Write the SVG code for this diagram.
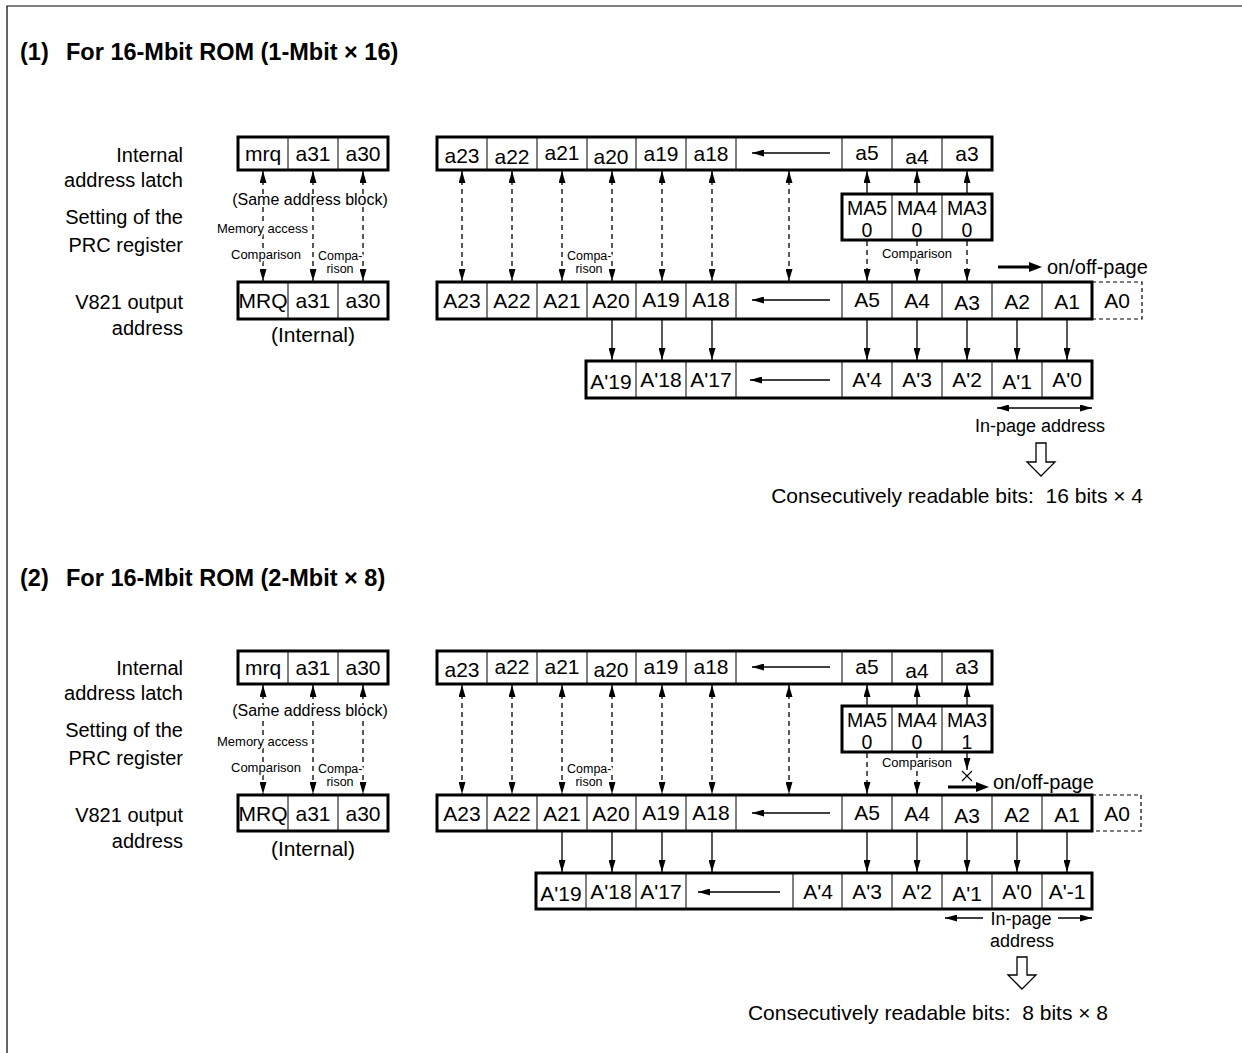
<svg xmlns="http://www.w3.org/2000/svg" width="1242" height="1053" viewBox="0 0 1242 1053">
<style>
text{font-family:"Liberation Sans",Arial,Helvetica,sans-serif;fill:#000}
.t{font-size:21px;text-anchor:middle}
.ma{font-size:19.5px;text-anchor:middle}
.lbl{font-size:20px;text-anchor:end}
.ttl{font-size:23.5px;font-weight:bold}
.sm{font-size:13px}
.xs{font-size:12.5px}
.mid{font-size:16px}
.pre{white-space:pre}
.halo{paint-order:stroke;stroke:#fff;stroke-width:4px;stroke-linejoin:round}
.box{fill:#fff;stroke:#000;stroke-width:3}
.div{stroke:#000;stroke-width:1;fill:none}
.dash{stroke:#000;stroke-width:1.3;stroke-dasharray:5,4;fill:none}
.sol{stroke:#000;stroke-width:1.3;fill:none}
.frame{stroke:#000;stroke-width:1.2;fill:none}
</style>
<defs>
<marker id="ah" viewBox="0 0 12 7" refX="12" refY="3.5" markerWidth="12" markerHeight="7" orient="auto-start-reverse" markerUnits="userSpaceOnUse"><path d="M0,0 L12,3.5 L0,7 Z" fill="#000"/></marker>
</defs>
<path class="frame" d="M7,1053 V6 H1242"/>

<!-- Section 1 -->
<g id="title1"><text class="ttl" x="20" y="60">(1)</text><text class="ttl" x="66" y="60">For 16-Mbit ROM (1-Mbit × 16)</text></g>
<g id="labels1">
<text class="lbl" x="183" y="162">Internal</text>
<text class="lbl" x="183" y="187">address latch</text>
<text class="lbl" x="183" y="224">Setting of the</text>
<text class="lbl" x="183" y="252">PRC register</text>
<text class="lbl" x="183" y="309">V821 output</text>
<text class="lbl" x="183" y="335">address</text>
</g>
<g id="connectors1">
<line class="dash" x1="263" y1="171" x2="263" y2="281" marker-start="url(#ah)" marker-end="url(#ah)"/>
<line class="dash" x1="313" y1="171" x2="313" y2="281" marker-start="url(#ah)" marker-end="url(#ah)"/>
<line class="dash" x1="363" y1="171" x2="363" y2="281" marker-start="url(#ah)" marker-end="url(#ah)"/>
<line class="dash" x1="462" y1="171" x2="462" y2="281" marker-start="url(#ah)" marker-end="url(#ah)"/>
<line class="dash" x1="512" y1="171" x2="512" y2="281" marker-start="url(#ah)" marker-end="url(#ah)"/>
<line class="dash" x1="562" y1="171" x2="562" y2="281" marker-start="url(#ah)" marker-end="url(#ah)"/>
<line class="dash" x1="612" y1="171" x2="612" y2="281" marker-start="url(#ah)" marker-end="url(#ah)"/>
<line class="dash" x1="662" y1="171" x2="662" y2="281" marker-start="url(#ah)" marker-end="url(#ah)"/>
<line class="dash" x1="712" y1="171" x2="712" y2="281" marker-start="url(#ah)" marker-end="url(#ah)"/>
<line class="dash" x1="789" y1="171" x2="789" y2="281" marker-start="url(#ah)" marker-end="url(#ah)"/>
<line class="sol" x1="867" y1="194" x2="867" y2="171" marker-end="url(#ah)"/>
<line class="sol" x1="917" y1="194" x2="917" y2="171" marker-end="url(#ah)"/>
<line class="sol" x1="967" y1="194" x2="967" y2="171" marker-end="url(#ah)"/>
<line class="dash" x1="867" y1="241" x2="867" y2="281" marker-end="url(#ah)"/>
<line class="dash" x1="917" y1="241" x2="917" y2="281" marker-end="url(#ah)"/>
<line class="dash" x1="967" y1="241" x2="967" y2="281" marker-end="url(#ah)"/>
<line class="sol" x1="612" y1="320" x2="612" y2="360" marker-end="url(#ah)"/>
<line class="sol" x1="662" y1="320" x2="662" y2="360" marker-end="url(#ah)"/>
<line class="sol" x1="712" y1="320" x2="712" y2="360" marker-end="url(#ah)"/>
<line class="sol" x1="867" y1="320" x2="867" y2="360" marker-end="url(#ah)"/>
<line class="sol" x1="917" y1="320" x2="917" y2="360" marker-end="url(#ah)"/>
<line class="sol" x1="967" y1="320" x2="967" y2="360" marker-end="url(#ah)"/>
<line class="sol" x1="1017" y1="320" x2="1017" y2="360" marker-end="url(#ah)"/>
<line class="sol" x1="1067" y1="320" x2="1067" y2="360" marker-end="url(#ah)"/>
<path d="M998,265.5 H1029 V262 L1042,267 L1029,272 V268.5 H998 Z" fill="#000"/>
<line class="sol" x1="997" y1="408" x2="1092" y2="408" marker-start="url(#ah)" marker-end="url(#ah)"/>
<path d="M1036,443 H1046 V462 H1055 L1041,476 L1027,462 H1036 Z" fill="#fff" stroke="#000" stroke-width="1.3"/>
</g>
<g id="notes1">
<text class="mid halo" x="310" y="205" text-anchor="middle">(Same address block)</text>
<text class="sm halo" x="217" y="233">Memory access</text>
<text class="sm halo" x="231" y="259">Comparison</text>
<text class="xs halo" x="318" y="260">Compa-</text>
<text class="xs halo" x="340" y="273" text-anchor="middle">rison</text>
<text class="xs halo" x="567" y="260">Compa-</text>
<text class="xs halo" x="589" y="273" text-anchor="middle">rison</text>
<text class="sm halo" x="917" y="258" text-anchor="middle">Comparison</text>
<text x="1047" y="274" font-size="20">on/off-page</text>
<text x="1040" y="432" font-size="18" text-anchor="middle">In-page address</text>
<text class="pre" xml:space="preserve" x="1143" y="503" font-size="21" text-anchor="end">Consecutively readable bits:  16 bits × 4</text>
<text x="313" y="342" class="t" font-size="20">(Internal)</text>
</g>
<g id="latch-ctrl1">
<rect class="box" x="238" y="137" width="150" height="33"/>
<path class="div" d="M288,137V170M338,137V170"/>
<text class="t" x="263" y="161">mrq</text><text class="t" x="313" y="161">a31</text><text class="t" x="363" y="161">a30</text>
</g>
<g id="latch-addr1">
<rect class="box" x="437" y="137" width="555" height="33"/>
<path class="div" d="M487,137V170M537,137V170M587,137V170M636,137V170M686,137V170M736,137V170M842,137V170M892,137V170M942,137V170"/>
<text class="t" x="462" y="163">a23</text><text class="t" x="512" y="164">a22</text><text class="t" x="562" y="160">a21</text><text class="t" x="611" y="164">a20</text><text class="t" x="661" y="161">a19</text><text class="t" x="711" y="161">a18</text>
<line class="sol" x1="830" y1="153" x2="752" y2="153" marker-end="url(#ah)"/>
<text class="t" x="867" y="160">a5</text><text class="t" x="917" y="164">a4</text><text class="t" x="967" y="161">a3</text>
</g>
<g id="prc1">
<rect class="box" x="842" y="194" width="150" height="46"/>
<path class="div" d="M892,194V240M942,194V240"/>
<text class="ma" x="867" y="215">MA5</text><text class="ma" x="917" y="215">MA4</text><text class="ma" x="967" y="215">MA3</text>
<text class="ma" x="867" y="237">0</text><text class="ma" x="917" y="237">0</text><text class="ma" x="967" y="237">0</text>
</g>
<g id="out-ctrl1">
<rect class="box" x="238" y="282" width="150" height="37"/>
<path class="div" d="M288,282V319M338,282V319"/>
<text class="t" x="263" y="308">MRQ</text><text class="t" x="313" y="308">a31</text><text class="t" x="363" y="308">a30</text>
</g>
<g id="out-addr1">
<path d="M1092,282H1142V319H1092" fill="none" stroke="#000" stroke-width="1.2" stroke-dasharray="4,3"/>
<text class="t" x="1117" y="308">A0</text>
<rect class="box" x="437" y="282" width="655" height="37"/>
<path class="div" d="M487,282V319M537,282V319M587,282V319M636,282V319M686,282V319M736,282V319M842,282V319M892,282V319M942,282V319M992,282V319M1042,282V319"/>
<text class="t" x="462" y="308">A23</text><text class="t" x="512" y="308">A22</text><text class="t" x="562" y="308">A21</text><text class="t" x="611" y="308">A20</text><text class="t" x="661" y="307">A19</text><text class="t" x="711" y="307">A18</text>
<line class="sol" x1="830" y1="300" x2="752" y2="300" marker-end="url(#ah)"/>
<text class="t" x="867" y="307">A5</text><text class="t" x="917" y="308">A4</text><text class="t" x="967" y="310">A3</text><text class="t" x="1017" y="309">A2</text><text class="t" x="1067" y="309">A1</text>
</g>
<g id="rom-addr1">
<rect class="box" x="586" y="361" width="506" height="37"/>
<path class="div" d="M636,361V398M686,361V398M736,361V398M842,361V398M892,361V398M942,361V398M992,361V398M1042,361V398"/>
<text class="t" x="611" y="389">A'19</text><text class="t" x="661" y="387">A'18</text><text class="t" x="711" y="387">A'17</text>
<line class="sol" x1="830" y1="380" x2="750" y2="380" marker-end="url(#ah)"/>
<text class="t" x="867" y="387">A'4</text><text class="t" x="917" y="387">A'3</text><text class="t" x="967" y="387">A'2</text><text class="t" x="1017" y="389">A'1</text><text class="t" x="1067" y="387">A'0</text>
</g>

<!-- Section 2 -->
<g id="title2"><text class="ttl" x="20" y="586">(2)</text><text class="ttl" x="66" y="586">For 16-Mbit ROM (2-Mbit × 8)</text></g>
<g id="labels2">
<text class="lbl" x="183" y="675">Internal</text>
<text class="lbl" x="183" y="700">address latch</text>
<text class="lbl" x="183" y="737">Setting of the</text>
<text class="lbl" x="183" y="765">PRC register</text>
<text class="lbl" x="183" y="822">V821 output</text>
<text class="lbl" x="183" y="848">address</text>
</g>
<g id="connectors2">
<line class="dash" x1="263" y1="685" x2="263" y2="794" marker-start="url(#ah)" marker-end="url(#ah)"/>
<line class="dash" x1="313" y1="685" x2="313" y2="794" marker-start="url(#ah)" marker-end="url(#ah)"/>
<line class="dash" x1="363" y1="685" x2="363" y2="794" marker-start="url(#ah)" marker-end="url(#ah)"/>
<line class="dash" x1="462" y1="685" x2="462" y2="794" marker-start="url(#ah)" marker-end="url(#ah)"/>
<line class="dash" x1="512" y1="685" x2="512" y2="794" marker-start="url(#ah)" marker-end="url(#ah)"/>
<line class="dash" x1="562" y1="685" x2="562" y2="794" marker-start="url(#ah)" marker-end="url(#ah)"/>
<line class="dash" x1="612" y1="685" x2="612" y2="794" marker-start="url(#ah)" marker-end="url(#ah)"/>
<line class="dash" x1="662" y1="685" x2="662" y2="794" marker-start="url(#ah)" marker-end="url(#ah)"/>
<line class="dash" x1="712" y1="685" x2="712" y2="794" marker-start="url(#ah)" marker-end="url(#ah)"/>
<line class="dash" x1="789" y1="685" x2="789" y2="794" marker-start="url(#ah)" marker-end="url(#ah)"/>
<line class="sol" x1="867" y1="706" x2="867" y2="685" marker-end="url(#ah)"/>
<line class="sol" x1="917" y1="706" x2="917" y2="685" marker-end="url(#ah)"/>
<line class="sol" x1="967" y1="706" x2="967" y2="685" marker-end="url(#ah)"/>
<line class="dash" x1="867" y1="753" x2="867" y2="794" marker-end="url(#ah)"/>
<line class="dash" x1="917" y1="753" x2="917" y2="794" marker-end="url(#ah)"/>
<line class="sol" x1="967" y1="753" x2="967" y2="770" marker-end="url(#ah)"/>
<path d="M962,771 L972,781 M972,771 L962,781" stroke="#000" stroke-width="1.2" fill="none"/>
<path d="M948,785.5 H976 V782 L989,787 L976,792 V788.5 H948 Z" fill="#000"/>
<line class="sol" x1="562" y1="832" x2="562" y2="872" marker-end="url(#ah)"/>
<line class="sol" x1="612" y1="832" x2="612" y2="872" marker-end="url(#ah)"/>
<line class="sol" x1="662" y1="832" x2="662" y2="872" marker-end="url(#ah)"/>
<line class="sol" x1="712" y1="832" x2="712" y2="872" marker-end="url(#ah)"/>
<line class="sol" x1="867" y1="832" x2="867" y2="872" marker-end="url(#ah)"/>
<line class="sol" x1="917" y1="832" x2="917" y2="872" marker-end="url(#ah)"/>
<line class="sol" x1="967" y1="832" x2="967" y2="872" marker-end="url(#ah)"/>
<line class="sol" x1="1017" y1="832" x2="1017" y2="872" marker-end="url(#ah)"/>
<line class="sol" x1="1067" y1="832" x2="1067" y2="872" marker-end="url(#ah)"/>
<line class="sol" x1="983" y1="918" x2="945" y2="918" marker-end="url(#ah)"/>
<line class="sol" x1="1058" y1="918" x2="1092" y2="918" marker-end="url(#ah)"/>
<path d="M1017,957 H1027 V975 H1036 L1022,989 L1008,975 H1017 Z" fill="#fff" stroke="#000" stroke-width="1.3"/>
</g>
<g id="notes2">
<text class="mid halo" x="310" y="716" text-anchor="middle">(Same address block)</text>
<text class="sm halo" x="217" y="746">Memory access</text>
<text class="sm halo" x="231" y="772">Comparison</text>
<text class="xs halo" x="318" y="773">Compa-</text>
<text class="xs halo" x="340" y="786" text-anchor="middle">rison</text>
<text class="xs halo" x="567" y="773">Compa-</text>
<text class="xs halo" x="589" y="786" text-anchor="middle">rison</text>
<text class="sm halo" x="917" y="767" text-anchor="middle">Comparison</text>
<text x="993" y="789" font-size="20">on/off-page</text>
<text x="1021" y="925" font-size="18" text-anchor="middle">In-page</text>
<text x="1022" y="947" font-size="18" text-anchor="middle">address</text>
<text class="pre" xml:space="preserve" x="1108" y="1020" font-size="21" text-anchor="end">Consecutively readable bits:  8 bits × 8</text>
<text x="313" y="856" class="t" font-size="20">(Internal)</text>
</g>
<g id="latch-ctrl2">
<rect class="box" x="238" y="651" width="150" height="33"/>
<path class="div" d="M288,651V684M338,651V684"/>
<text class="t" x="263" y="675">mrq</text><text class="t" x="313" y="675">a31</text><text class="t" x="363" y="675">a30</text>
</g>
<g id="latch-addr2">
<rect class="box" x="437" y="651" width="555" height="33"/>
<path class="div" d="M487,651V684M537,651V684M587,651V684M636,651V684M686,651V684M736,651V684M842,651V684M892,651V684M942,651V684"/>
<text class="t" x="462" y="677">a23</text><text class="t" x="512" y="674">a22</text><text class="t" x="562" y="674">a21</text><text class="t" x="611" y="677">a20</text><text class="t" x="661" y="674">a19</text><text class="t" x="711" y="674">a18</text>
<line class="sol" x1="830" y1="667" x2="752" y2="667" marker-end="url(#ah)"/>
<text class="t" x="867" y="674">a5</text><text class="t" x="917" y="678">a4</text><text class="t" x="967" y="674">a3</text>
</g>
<g id="prc2">
<rect class="box" x="842" y="706" width="150" height="46"/>
<path class="div" d="M892,706V752M942,706V752"/>
<text class="ma" x="867" y="727">MA5</text><text class="ma" x="917" y="727">MA4</text><text class="ma" x="967" y="727">MA3</text>
<text class="ma" x="867" y="749">0</text><text class="ma" x="917" y="749">0</text><text class="ma" x="967" y="749">1</text>
</g>
<g id="out-ctrl2">
<rect class="box" x="238" y="795" width="150" height="36"/>
<path class="div" d="M288,795V831M338,795V831"/>
<text class="t" x="263" y="821">MRQ</text><text class="t" x="313" y="821">a31</text><text class="t" x="363" y="821">a30</text>
</g>
<g id="out-addr2">
<path d="M1092,795H1141V831H1092" fill="none" stroke="#000" stroke-width="1.2" stroke-dasharray="4,3"/>
<text class="t" x="1117" y="821">A0</text>
<rect class="box" x="437" y="795" width="655" height="36"/>
<path class="div" d="M487,795V831M537,795V831M587,795V831M636,795V831M686,795V831M736,795V831M842,795V831M892,795V831M942,795V831M992,795V831M1042,795V831"/>
<text class="t" x="462" y="821">A23</text><text class="t" x="512" y="821">A22</text><text class="t" x="562" y="821">A21</text><text class="t" x="611" y="821">A20</text><text class="t" x="661" y="820">A19</text><text class="t" x="711" y="820">A18</text>
<line class="sol" x1="830" y1="813" x2="752" y2="813" marker-end="url(#ah)"/>
<text class="t" x="867" y="820">A5</text><text class="t" x="917" y="821">A4</text><text class="t" x="967" y="823">A3</text><text class="t" x="1017" y="822">A2</text><text class="t" x="1067" y="822">A1</text>
</g>
<g id="rom-addr2">
<rect class="box" x="536" y="873" width="556" height="36"/>
<path class="div" d="M586,873V909M636,873V909M686,873V909M793,873V909M842,873V909M892,873V909M942,873V909M992,873V909M1042,873V909"/>
<text class="t" x="561" y="901">A'19</text><text class="t" x="611" y="899">A'18</text><text class="t" x="661" y="899">A'17</text>
<line class="sol" x1="780" y1="892" x2="698" y2="892" marker-end="url(#ah)"/>
<text class="t" x="818" y="899">A'4</text><text class="t" x="867" y="899">A'3</text><text class="t" x="917" y="899">A'2</text><text class="t" x="967" y="901">A'1</text><text class="t" x="1017" y="899">A'0</text><text class="t" x="1067" y="899">A'-1</text>
</g>
</svg>
